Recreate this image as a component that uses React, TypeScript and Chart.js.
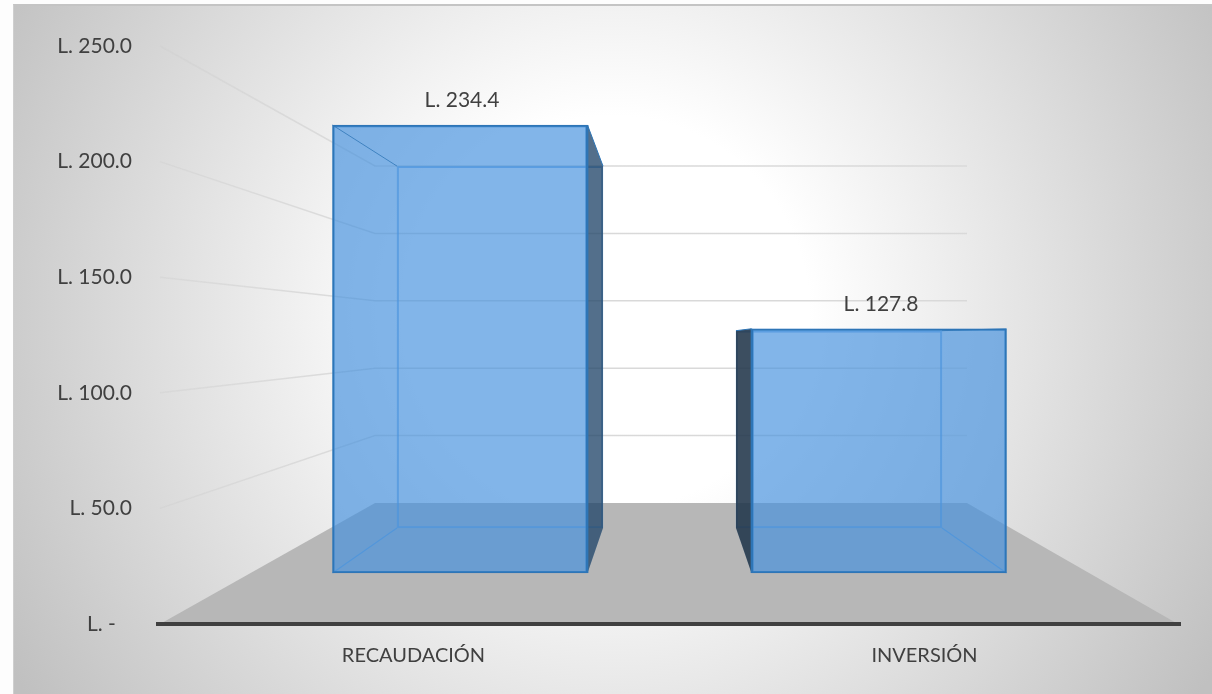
import React, { useEffect, useRef } from "react";
import { Chart, registerables } from "chart.js";

Chart.register(...registerables);

const categories = ["RECAUDACIÓN", "INVERSIÓN"];
const barValues = [234.4, 127.8];
const axisMin = 0;
const axisMax = 250;
const axisStep = 50;
const wallTicks = [0, 50, 100, 150, 200, 250];

const FONT = "Lato, Carlito, sans-serif";
const TEXT = "#404040";

const fmt = (v: number) => "L. " + v.toFixed(1);

const poly = (ctx: any, p: number[][]) => {
  ctx.beginPath();
  p.forEach((q, k) => (k ? ctx.lineTo(q[0], q[1]) : ctx.moveTo(q[0], q[1])));
  ctx.closePath();
};

const faces = (chart: any, i: number) => {
  const f = chart.getDatasetMeta(0).data[i];
  const b = chart.getDatasetMeta(1).data[i];
  const fh = f.width / 2;
  const bh = b.width / 2;
  const darkRight = b.x > f.x;
  return {
    f,
    b,
    darkRight,
    fDark: darkRight ? f.x + fh : f.x - fh,
    bDark: darkRight ? b.x + bh : b.x - bh,
    fLight: darkRight ? f.x - fh : f.x + fh,
    bLight: darkRight ? b.x - bh : b.x + bh,
  };
};

const depthPlugin = {
  id: "depth",
  beforeDatasetsDraw(chart: any) {
    const { ctx, scales, chartArea } = chart;
    const y = scales.y;
    const w = scales.yWall;
    const wallLeft = 375;
    const wallRight = 967;
    const left = chartArea.left + 2;
    const right = chartArea.right - 2;
    ctx.save();
    // floor
    ctx.fillStyle = "#b7b7b7";
    ctx.beginPath();
    ctx.moveTo(left, y.getPixelForValue(0));
    ctx.lineTo(wallLeft, w.getPixelForValue(0));
    ctx.lineTo(wallRight, w.getPixelForValue(0));
    ctx.lineTo(right, y.getPixelForValue(0));
    ctx.closePath();
    ctx.fill();
    // wall grid lines, fading toward the axis labels
    const fade = ctx.createLinearGradient(left, 0, wallLeft, 0);
    fade.addColorStop(0, "rgba(205,205,205,0.35)");
    fade.addColorStop(1, "#d9d9d9");
    ctx.lineWidth = 1.5;
    ctx.strokeStyle = fade;
    wallTicks.forEach((t) => {
      if (t === 0) return;
      ctx.beginPath();
      ctx.moveTo(left, y.getPixelForValue(t));
      ctx.lineTo(wallLeft, w.getPixelForValue(t));
      ctx.lineTo(wallRight, w.getPixelForValue(t));
      ctx.stroke();
    });
    // light inner faces of the bars
    barValues.forEach((_, i) => {
      const { f, b, fDark, bDark, fLight, bLight } = faces(chart, i);
      ctx.fillStyle = "rgba(70,145,222,0.27)";
      poly(ctx, [[fLight, f.y], [bLight, b.y], [bLight, b.base], [fLight, f.base]]);
      ctx.fill();
      poly(ctx, [[fLight, f.y], [fDark, f.y], [bDark, b.y], [bLight, b.y]]);
      ctx.fill();
      poly(ctx, [[fLight, f.base], [fDark, f.base], [bDark, b.base], [bLight, b.base]]);
      ctx.fill();
      ctx.beginPath();
      ctx.moveTo(fLight, f.base);
      ctx.lineTo(bLight, b.base);
      ctx.strokeStyle = "rgba(80,150,220,0.75)";
      ctx.lineWidth = 1.2;
      ctx.stroke();
    });
    ctx.restore();
  },
  afterDatasetsDraw(chart: any) {
    const { ctx } = chart;
    ctx.save();
    barValues.forEach((v, i) => {
      const { f, b, darkRight, fDark, bDark, fLight, bLight } = faces(chart, i);
      // dark outer face
      ctx.fillStyle = darkRight ? "rgba(32,62,92,0.7)" : "rgba(32,50,68,0.84)";
      poly(ctx, [[fDark, f.y], [bDark, b.y], [bDark, b.base], [fDark, f.base]]);
      ctx.fill();
      ctx.strokeStyle = "#2e75b6";
      ctx.lineWidth = 1;
      ctx.beginPath();
      ctx.moveTo(fDark, f.y);
      ctx.lineTo(bDark, b.y);
      ctx.stroke();
      ctx.beginPath();
      ctx.moveTo(fDark, f.y);
      ctx.lineTo(fDark, f.base);
      ctx.lineWidth = 1.75;
      ctx.stroke();
      // upper depth edge on the light side
      ctx.beginPath();
      ctx.moveTo(fLight, f.y);
      ctx.lineTo(bLight, b.y);
      ctx.lineWidth = 1;
      ctx.strokeStyle = "rgba(46,117,182,0.8)";
      ctx.stroke();
      // value label
      ctx.font = "21px " + FONT;
      ctx.fillStyle = TEXT;
      ctx.textAlign = "center";
      ctx.textBaseline = "middle";
      ctx.fillText(fmt(v), f.x + 2, f.y - 25);
    });
    ctx.restore();
  },
};

export default function App() {
  const ref = useRef<HTMLCanvasElement>(null);
  useEffect(() => {
    const chart = new Chart(ref.current as HTMLCanvasElement, {
      type: "bar",
      data: {
        labels: categories,
        datasets: [
          {
            label: "Frente",
            data: barValues.map((v, i) => ({ x: i, y: v })),
            xAxisID: "xFront",
            yAxisID: "yFront",
            grouped: false,
            barThickness: 255,
            backgroundColor: "rgba(70,145,222,0.55)",
            borderColor: "#2e75b6",
            borderWidth: 1.75,
            borderSkipped: false,
          },
          {
            label: "Fondo",
            data: barValues.map((v, i) => ({ x: i, y: v })),
            xAxisID: "xBack",
            yAxisID: "yBack",
            grouped: false,
            barThickness: 206,
            backgroundColor: "rgba(70,145,222,0.27)",
            borderColor: "rgba(80,150,220,0.75)",
            borderWidth: 1.5,
            borderSkipped: false,
          },
        ],
      } as any,
      options: {
        responsive: false,
        animation: false,
        layout: { padding: { top: 46, right: 32, left: 0, bottom: 0 } },
        plugins: { legend: { display: false }, tooltip: { enabled: false } },
        scales: {
          x: {
            type: "category",
            offset: true,
            grid: { display: false },
            border: { display: true, color: "#404040", width: 4, z: 1 },
            ticks: {
              color: TEXT,
              font: { family: FONT, size: 20 },
              padding: 12,
              maxRotation: 0,
              autoSkip: false,
            },
            afterFit: (s: any) => { s.height = 70; },
          },
          y: {
            type: "linear",
            min: axisMin,
            max: axisMax,
            grid: { display: false, drawTicks: false },
            border: { display: false },
            ticks: {
              stepSize: axisStep,
              color: TEXT,
              font: { family: FONT, size: 21 },
              padding: 26,
              callback: (v: any) => (v === 0 ? "L. -   " : fmt(Number(v))),
            },
            afterFit: (s: any) => { s.width = 158; },
          },
          // hidden planes of the perspective: front of bars, back of bars, back wall
          xFront: { type: "linear", axis: "x", display: false, offset: false, min: -0.7208, max: 1.7184 },
          yFront: { type: "linear", axis: "y", display: false, min: -26.69, max: 275.78 },
          xBack: { type: "linear", axis: "x", display: false, offset: false, min: -1.0088, max: 2.0059 },
          yBack: { type: "linear", axis: "y", display: false, min: -62.18, max: 312.18 },
          yWall: { type: "linear", axis: "y", display: false, min: -89.76, max: 339.0 },
        },
      } as any,
      plugins: [depthPlugin],
    });
    return () => chart.destroy();
  }, []);
  return (
    <div style={{ position: "fixed", inset: 0, background: "#fdfdfd", overflow: "hidden" }}>
      <div
        style={{
          position: "absolute",
          left: 13,
          top: 4,
          width: 1199,
          height: 690,
          boxSizing: "border-box",
          borderTop: "2px solid #c4c4c4",
          borderLeft: "1px solid #cfcfcf",
          background:
            "radial-gradient(circle 700px at 599px 306px, #ffffff 0%, #ffffff 28%, #c0c0c0 100%)",
        }}
      />
      <canvas ref={ref} width={1212} height={694} style={{ position: "absolute", left: 0, top: 0, display: "block" }} />
    </div>
  );
}
